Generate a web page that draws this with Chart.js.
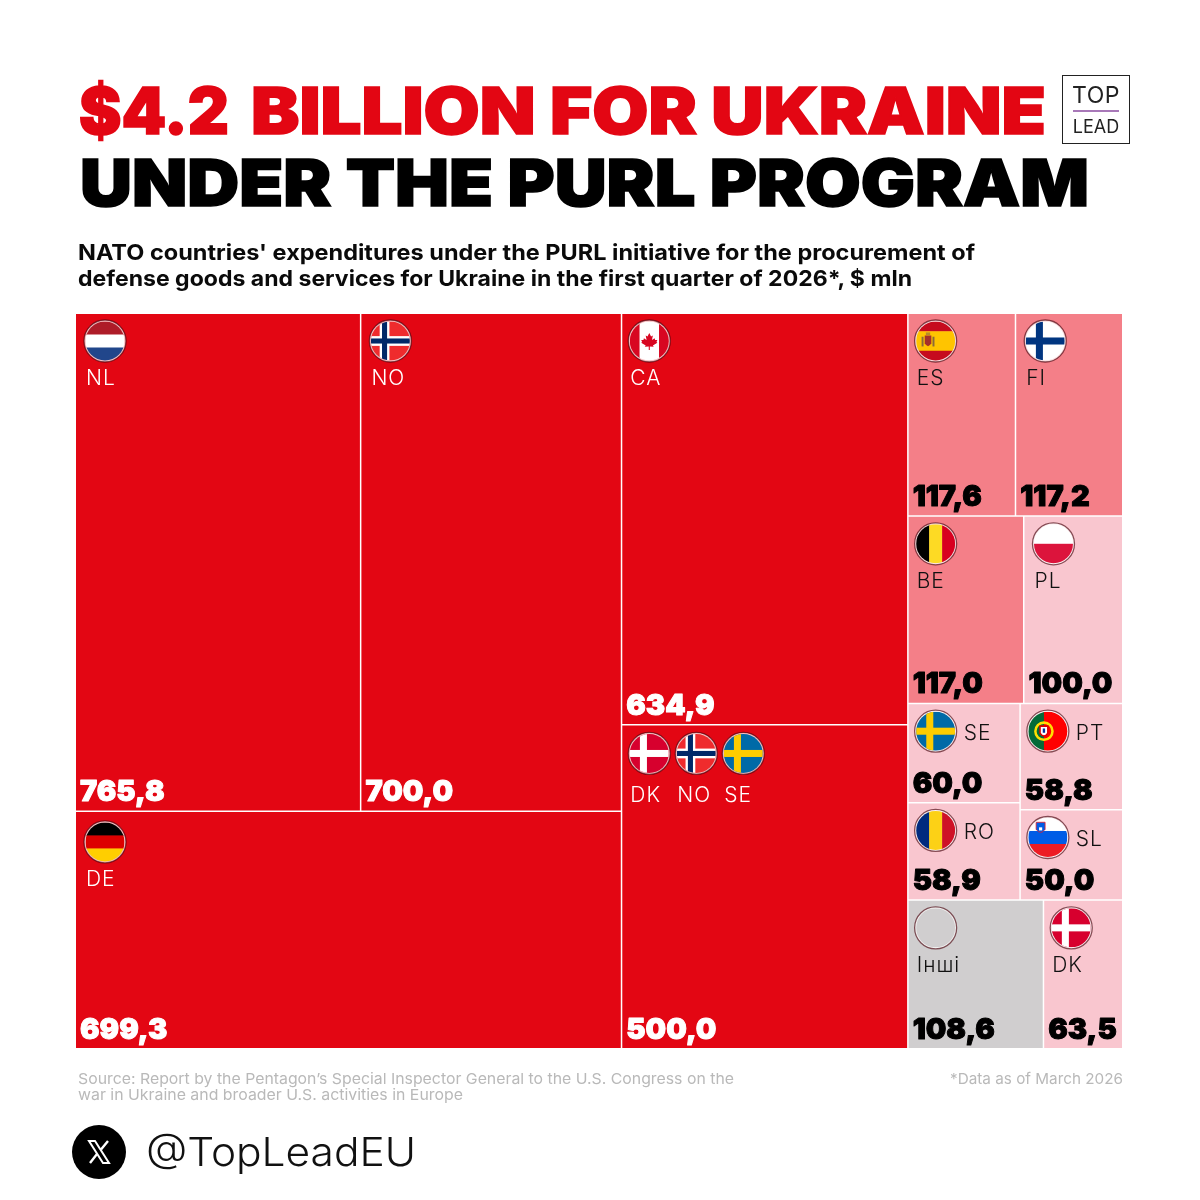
<!DOCTYPE html>
<html>
<head>
<meta charset="utf-8">
<title>$4.2 billion for Ukraine under the PURL program</title>
<script src="https://cdn.jsdelivr.net/npm/chart.js@4/dist/chart.umd.js"></script>
<style>
  html, body { margin: 0; padding: 0; background: #fff; }
  #page { position: relative; width: 1200px; height: 1200px; overflow: hidden; font-family: Inter, sans-serif; }
  #page canvas { position: absolute; left: 0; top: 0; }
  .txt { position: absolute; white-space: nowrap; transform-origin: 0 0; line-height: 1; }
  .head { font-weight: 900; font-size: 65px; -webkit-text-stroke: 1.6px currentColor; }
  .sub { font-weight: 700; font-size: 22px; color: #0a0a0a; }
  .src { font-weight: 400; font-size: 15px; color: #b9b9b9; }
  #logo { position: absolute; left: 1062px; top: 75px; width: 66px; height: 67px; border: 1px solid #222; background: #fff; text-align: center; color: #222; }
  #logo hr { position: absolute; left: 10px; right: 10px; top: 34px; margin: 0; border: 0; height: 1.5px; background: #a878b8; }
  #logo div { position: absolute; left: 0; right: 0; line-height: 1; font-weight: 400; }
</style>
</head>
<body>
<div id="page">
  <canvas id="treemap" width="1200" height="1200"></canvas>
  <div class="txt head" data-w="150" style="left:79px;top:78px;color:#e30613">$4.2</div>
  <div class="txt head" data-w="795" style="left:251px;top:78px;color:#e30613">BILLION FOR UKRAINE</div>
  <div class="txt head" data-w="1009" style="left:80px;top:150px;color:#000">UNDER THE PURL PROGRAM</div>
  <div class="txt sub" data-w="897" style="left:78px;top:241px">NATO countries' expenditures under the PURL initiative for the procurement of</div>
  <div class="txt sub" data-w="834" style="left:78px;top:267px">defense goods and services for Ukraine in the first quarter of 2026*, $ mln</div>
  <div class="txt src" data-w="656" style="left:78px;top:1071px">Source: Report by the Pentagon’s Special Inspector General to the U.S. Congress on the</div>
  <div class="txt src" data-w="385" style="left:78px;top:1087px">war in Ukraine and broader U.S. activities in Europe</div>
  <div class="txt src" data-w="173" style="left:950px;top:1071px">*Data as of March 2026</div>
  <div id="logo">
    <div style="top:8px;font-size:23px;letter-spacing:.5px">TOP</div>
    <hr>
    <div style="top:42px;font-size:18px">LEAD</div>
  </div>
  <svg style="position:absolute;left:72px;top:1125px" width="54" height="54" viewBox="0 0 54 54">
    <circle cx="27" cy="27" r="27" fill="#000"/>
    <path d="M17 16 L23 16 L37 38 L31 38 Z" fill="none" stroke="#fff" stroke-width="2"/>
    <path d="M36 16 L29 24.5 M25 29 L18 38" stroke="#fff" stroke-width="2.4"/>
  </svg>
  <div class="txt" data-w="270" style="left:146px;top:1132px;font-size:40px;font-weight:300;color:#111">@TopLeadEU</div>
</div>

<script>
const countries = ['NL', 'NO', 'DE', 'CA', 'DK NO SE', 'ES', 'FI', 'BE', 'PL', 'SE', 'RO', 'PT', 'SL', 'Інші', 'DK'];
const spending = [765.8, 700.0, 699.3, 634.9, 500.0, 117.6, 117.2, 117.0, 100.0, 60.0, 58.9, 58.8, 50.0, 108.6, 63.5];
// how the cells nest, by index into the arrays above; levels alternate side by side / stacked
const nesting = [[[0, 1], 2], [3, 4], [[5, 6], [7, 8], [[9, 10], [11, 12]], [13, 14]]];

const RED = '#e30613', MID = '#f47f88', PALE = '#f9c6cf', GREY = '#d0cecf';
const CELL_LINE = 0.75;

// squeeze the html text to the widths of the reference
document.querySelectorAll('.txt').forEach(el => {
    const w = el.getBoundingClientRect().width;
    el.style.transform = `scaleX(${el.dataset.w / w})`;
});

function cellColor(i) {
    if (countries[i] === 'Інші') return GREY;
    if (spending[i] >= 400) return RED;
    if (spending[i] >= 117) return MID;
    return PALE;
}

function total(node) {
    return Array.isArray(node) ? node.reduce((s, n) => s + total(n), 0) : spending[node];
}

function squares(node, x0, y0, x1, y1, sideBySide, out) {
    if (!Array.isArray(node)) {
        out[node] = { x0, y0, x1, y1 };
        return out;
    }
    const sum = total(node);
    let done = 0;
    node.forEach(n => {
        const a = done / sum;
        done += total(n);
        const b = done / sum;
        if (sideBySide) squares(n, x0 + (x1 - x0) * a, y0, x0 + (x1 - x0) * b, y1, false, out);
        else squares(n, x0, y0 + (y1 - y0) * a, x1, y0 + (y1 - y0) * b, true, out);
    });
    return out;
}

class TreemapController extends Chart.DatasetController {
    update(mode) {
        const meta = this._cachedMeta;
        this.updateElements(meta.data, 0, meta.data.length, mode);
    }
    updateElements(rects, start, count, mode) {
        const { xScale, yScale } = this._cachedMeta;
        const cells = squares(nesting, 0, 0, 1, 1, true, []);
        for (let i = start; i < start + count; i++) {
            const c = cells[i];
            const left = xScale.getPixelForValue(c.x0);
            const right = xScale.getPixelForValue(c.x1);
            const top = yScale.getPixelForValue(c.y0);
            const bottom = yScale.getPixelForValue(c.y1);
            this.updateElement(rects[i], i, {
                x: (left + right) / 2,
                y: top,
                base: bottom,
                width: right - left,
                height: bottom - top,
                horizontal: false,
                borderSkipped: {},
                enableBorderRadius: true,
                inflateAmount: 0,
                options: this.resolveDataElementOptions(i, mode)
            }, mode);
        }
    }
}
TreemapController.id = 'treemap';
TreemapController.defaults = { dataElementType: 'bar', datasetElementType: false };
TreemapController.overrides = { scales: { x: { type: 'linear' }, y: { type: 'linear' } } };
Chart.register(TreemapController);

function stripes(ctx, r, colors, sizes, across) {
    const sum = sizes.reduce((a, b) => a + b, 0);
    let pos = -r;
    colors.forEach((c, i) => {
        const d = 2 * r * sizes[i] / sum;
        ctx.fillStyle = c;
        if (across) ctx.fillRect(pos, -r, d + 0.5, 2 * r);
        else ctx.fillRect(-r, pos, 2 * r, d + 0.5);
        pos += d;
    });
}

function nordic(ctx, r, bg, cross, inner) {
    ctx.fillStyle = bg;
    ctx.fillRect(-r, -r, 2 * r, 2 * r);
    const cx = -r * 0.3, w = r * (inner ? 0.5 : 0.36);
    ctx.fillStyle = cross;
    ctx.fillRect(cx - w / 2, -r, w, 2 * r);
    ctx.fillRect(-r, -w / 2, 2 * r, w);
    if (inner) {
        const n = r * 0.26;
        ctx.fillStyle = inner;
        ctx.fillRect(cx - n / 2, -r, n, 2 * r);
        ctx.fillRect(-r, -n / 2, 2 * r, n);
    }
}

function mapleLeaf(ctx, s) {
    const pts = [[0, -9], [2, -5], [4, -6], [3, -1], [6, -3], [6.5, -1], [9, -1], [8, 1], [9, 2], [4, 5], [5, 6.5], [0.6, 6], [0.6, 10], [-0.6, 10], [-0.6, 6], [-5, 6.5], [-4, 5], [-9, 2], [-8, 1], [-9, -1], [-6.5, -1], [-6, -3], [-3, -1], [-4, -6], [-2, -5]];
    ctx.beginPath();
    pts.forEach((p, i) => i ? ctx.lineTo(p[0] * s, p[1] * s) : ctx.moveTo(p[0] * s, p[1] * s));
    ctx.closePath();
    ctx.fillStyle = '#d80621';
    ctx.fill();
}

const flags = {
    NL: (c, r) => stripes(c, r, ['#ae1c28', '#fff', '#21468b'], [1, 1, 1]),
    NO: (c, r) => nordic(c, r, '#ef2b2d', '#fff', '#002868'),
    DE: (c, r) => stripes(c, r, ['#000', '#dd0000', '#ffce00'], [1, 1, 1]),
    DK: (c, r) => nordic(c, r, '#d7002e', '#fff'),
    SE: (c, r) => nordic(c, r, '#006aa7', '#fecc00'),
    FI: (c, r) => nordic(c, r, '#fff', '#003580'),
    CA: (c, r) => { stripes(c, r, ['#d80621', '#fff', '#d80621'], [1, 2, 1], true); mapleLeaf(c, r * 0.046); },
    ES: (c, r) => {
        stripes(c, r, ['#c60b1e', '#ffc400', '#c60b1e'], [1, 2, 1]);
        // small crest with the two pillars
        c.fillStyle = '#8a6a3a';
        c.fillRect(-r * 0.72, -r * 0.22, r * 0.1, r * 0.5);
        c.fillRect(-r * 0.16, -r * 0.22, r * 0.1, r * 0.5);
        c.fillStyle = '#a5302a';
        c.beginPath();
        c.moveTo(-r * 0.56, -r * 0.28);
        c.lineTo(-r * 0.22, -r * 0.28);
        c.lineTo(-r * 0.22, r * 0.12);
        c.quadraticCurveTo(-r * 0.39, r * 0.42, -r * 0.56, r * 0.12);
        c.closePath();
        c.fill();
        c.fillStyle = '#b88a2a';
        c.fillRect(-r * 0.5, -r * 0.44, r * 0.22, r * 0.14);
    },
    BE: (c, r) => stripes(c, r, ['#000', '#fdda24', '#d8001f'], [1, 1, 1], true),
    PL: (c, r) => stripes(c, r, ['#fff', '#dc143c'], [1, 1]),
    RO: (c, r) => stripes(c, r, ['#002b7f', '#fcd116', '#ce1126'], [1, 1, 1], true),
    PT: (c, r) => {
        stripes(c, r, ['#046a38', '#f00'], [2, 3], true);
        c.beginPath();
        c.arc(-r * 0.2, 0, r * 0.44, 0, Math.PI * 2);
        c.strokeStyle = '#ffe000';
        c.lineWidth = r * 0.13;
        c.stroke();
        c.fillStyle = '#fff';
        c.beginPath();
        c.moveTo(-r * 0.4, -r * 0.26);
        c.lineTo(0, -r * 0.26);
        c.lineTo(0, r * 0.1);
        c.quadraticCurveTo(-r * 0.2, r * 0.4, -r * 0.4, r * 0.1);
        c.closePath();
        c.fill();
        c.strokeStyle = '#d00';
        c.lineWidth = r * 0.08;
        c.stroke();
        c.fillStyle = '#003399';
        c.fillRect(-r * 0.26, -r * 0.14, r * 0.12, r * 0.22);
    },
    SL: (c, r) => {
        stripes(c, r, ['#fff', '#005ce6', '#ed1c24'], [1, 1, 1]);
        c.beginPath();
        c.moveTo(-r * 0.6, -r * 0.78);
        c.lineTo(-r * 0.14, -r * 0.78);
        c.lineTo(-r * 0.14, -r * 0.42);
        c.quadraticCurveTo(-r * 0.37, -r * 0.1, -r * 0.6, -r * 0.42);
        c.closePath();
        c.fillStyle = '#005ce6';
        c.fill();
        c.strokeStyle = '#ed1c24';
        c.lineWidth = 0.8;
        c.stroke();
        c.fillStyle = '#fff';
        c.fillRect(-r * 0.45, -r * 0.52, r * 0.16, r * 0.16);
    }
};

function drawFlag(ctx, code, x, y) {
    const r = 19.5;
    ctx.save();
    ctx.translate(x, y);
    ctx.beginPath();
    ctx.arc(0, 0, 21, 0, Math.PI * 2);
    ctx.fillStyle = 'rgba(255,255,255,0.75)';
    ctx.fill();
    ctx.strokeStyle = 'rgba(70,0,10,0.65)';
    ctx.lineWidth = 1.3;
    ctx.stroke();
    ctx.beginPath();
    ctx.arc(0, 0, r, 0, Math.PI * 2);
    ctx.clip();
    if (flags[code]) flags[code](ctx, r);
    else { ctx.fillStyle = GREY; ctx.fillRect(-r, -r, 2 * r, 2 * r); }
    ctx.restore();
}

// small nudges where the original sits off its usual inset
const nudgeRight = { NL: 2, NO: 2, DE: 2, FI: 2, PL: 2 };
const dropFlag = { DE: 3, 'DK NO SE': 1 };
const dropLabel = { DE: 3, 'DK NO SE': 6 };

const cellText = {
    id: 'cellText',
    afterDatasetsDraw(chart) {
        const ctx = chart.ctx;
        chart.getDatasetMeta(0).data.forEach((rect, i) => {
            const left = rect.x - rect.width / 2 + CELL_LINE;
            const top = rect.y + CELL_LINE;
            const bottom = rect.base;
            const onRed = cellColor(i) === RED;
            const name = countries[i];
            const beside = rect.height < 110;
            ctx.save();
            ctx.textBaseline = 'alphabetic';
            ctx.textAlign = 'left';
            name.split(' ').forEach((code, k) => {
                const fx = left + 27 + (nudgeRight[name] || 0) + k * 47;
                const fy = top + 27 + (dropFlag[name] || 0);
                drawFlag(ctx, code, fx, fy);
                ctx.font = '300 21px Inter, sans-serif';
                ctx.letterSpacing = '1px';
                ctx.fillStyle = onRed ? '#fff' : '#111';
                if (beside) ctx.fillText(code, fx + 28, fy + 9);
                else ctx.fillText(code, fx - 19, top + 71 + (dropLabel[name] || 0));
            });
            ctx.font = '900 29px Inter, sans-serif';
            ctx.letterSpacing = '0px';
            ctx.lineJoin = 'round';
            ctx.lineWidth = 1;
            ctx.fillStyle = ctx.strokeStyle = onRed ? '#fff' : '#000';
            const value = spending[i].toFixed(1).replace('.', ',');
            ctx.strokeText(value, left + 4, bottom - 10);
            ctx.fillText(value, left + 4, bottom - 10);
            ctx.restore();
        });
    }
};

new Chart(document.getElementById('treemap'), {
    type: 'treemap',
    data: {
        labels: countries,
        datasets: [{
            label: 'PURL expenditures, $ mln',
            data: spending,
            backgroundColor: c => cellColor(c.dataIndex),
            borderColor: '#fff',
            borderWidth: CELL_LINE
        }]
    },
    options: {
        responsive: false,
        animation: false,
        layout: { padding: { left: 75.25, right: 77.25, top: 313.25, bottom: 151.25 } },
        scales: {
            x: { type: 'linear', min: 0, max: 1, display: false },
            y: { type: 'linear', min: 0, max: 1, reverse: true, display: false }
        },
        plugins: { legend: { display: false }, title: { display: false }, tooltip: { enabled: false } }
    },
    plugins: [cellText]
});
</script>
</body>
</html>
